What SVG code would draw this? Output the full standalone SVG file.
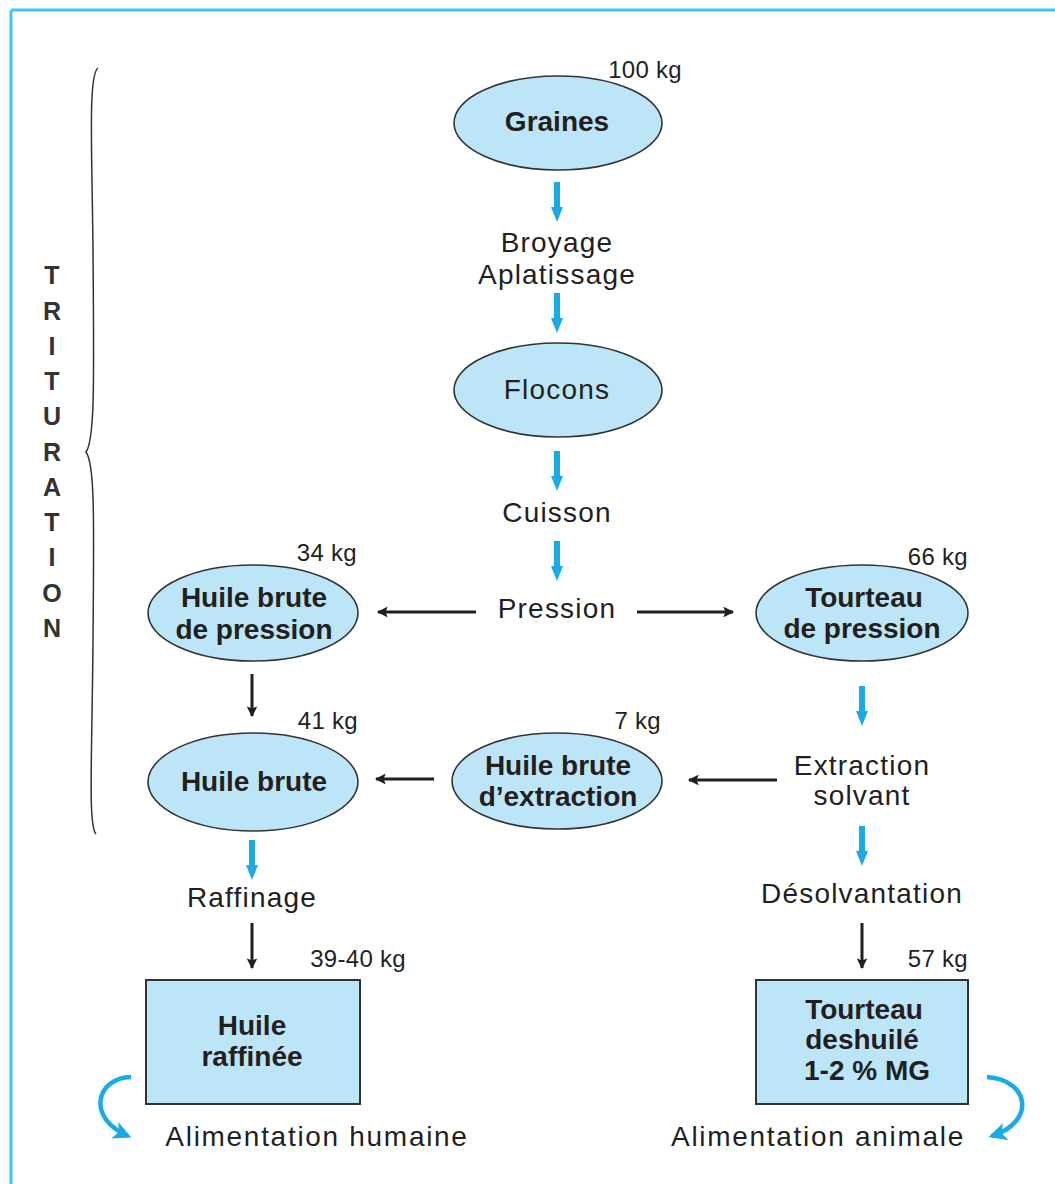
<svg xmlns="http://www.w3.org/2000/svg" width="1055" height="1184" viewBox="0 0 1055 1184">
<defs>
<style>
text{font-family:"Liberation Sans",Arial,sans-serif;fill:#231f20}
.n{font-size:28px;letter-spacing:1.2px;text-anchor:middle}
.al{letter-spacing:1.7px}
.b{font-size:28px;font-weight:bold;text-anchor:middle}
.kg{font-size:24px;text-anchor:end;letter-spacing:0.3px}
.tri{font-size:25px;font-weight:bold;text-anchor:middle;fill:#333}
.ell{fill:#bde5f8;stroke:#333;stroke-width:1.6}
.box{fill:#bde5f8;stroke:#333;stroke-width:2}
.blk{stroke:#231f20;stroke-width:3;fill:none;marker-end:url(#ah)}
.blu{fill:#1aabe6}
.cur{stroke:#1aabe6;stroke-width:4.5;fill:none;marker-end:url(#bh)}
</style>
<marker id="ah" viewBox="0 0 10 10" refX="9" refY="5" markerWidth="4" markerHeight="3.6" orient="auto" markerUnits="strokeWidth">
<path d="M0,0 L10,5 L0,10 L2,5 Z" fill="#231f20"/>
</marker>
<marker id="bh" viewBox="0 0 10 10" refX="8" refY="5" markerWidth="4.5" markerHeight="4" orient="auto" markerUnits="strokeWidth">
<path d="M0,0 L10,5 L0,10 L2.5,5 Z" fill="#1aabe6"/>
</marker>
<path id="barr" d="M-3,0 L3,0 L3,25 L6,25 L0,40 L-6,25 L-3,25 Z"/>
</defs>
<g id="frame">
<line x1="11" y1="10" x2="1055" y2="10" stroke="#40c4f4" stroke-width="3"/>
<line x1="11" y1="10" x2="11" y2="1184" stroke="#40c4f4" stroke-width="3"/>
</g>
<g id="trituration">
<path d="M98,68 C88,75 92,150 93,250 C94,380 95,440 86,452 C95,464 94,520 93,640 C92,760 88,825 96,834" fill="none" stroke="#333" stroke-width="1.5"/>
<text class="tri" x="52" y="284">T</text>
<text class="tri" x="52" y="320">R</text>
<text class="tri" x="52" y="355">I</text>
<text class="tri" x="52" y="390">T</text>
<text class="tri" x="52" y="425">U</text>
<text class="tri" x="52" y="461">R</text>
<text class="tri" x="52" y="496">A</text>
<text class="tri" x="52" y="531">T</text>
<text class="tri" x="52" y="566">I</text>
<text class="tri" x="52" y="602">O</text>
<text class="tri" x="52" y="637">N</text>
</g>
<g id="connectors">
<use href="#barr" class="blu" x="557" y="182"/>
<use href="#barr" class="blu" x="557" y="293"/>
<use href="#barr" class="blu" x="557" y="451"/>
<use href="#barr" class="blu" x="557" y="541"/>
<use href="#barr" class="blu" x="862" y="686"/>
<use href="#barr" class="blu" x="862" y="826"/>
<use href="#barr" class="blu" x="252" y="840"/>
<line class="blk" x1="476" y1="612" x2="378" y2="612"/>
<line class="blk" x1="637" y1="612" x2="733" y2="612"/>
<line class="blk" x1="252" y1="674" x2="252" y2="716"/>
<line class="blk" x1="434" y1="779" x2="376" y2="779"/>
<line class="blk" x1="777" y1="780" x2="689" y2="780"/>
<line class="blk" x1="252" y1="923" x2="252" y2="968"/>
<line class="blk" x1="862" y1="923" x2="862" y2="968"/>
<path class="cur" d="M131,1077 C96,1078 86,1118 128,1136"/>
<path class="cur" d="M987,1077 C1030,1080 1036,1122 992,1136"/>
</g>
<g id="graines">
<ellipse class="ell" cx="558" cy="123" rx="104" ry="47"/>
<text class="b" x="557" y="131">Graines</text>
<text class="kg" x="682" y="78">100 kg</text>
</g>
<g id="broyage">
<text class="n" x="557" y="252">Broyage</text>
<text class="n" x="557" y="284">Aplatissage</text>
</g>
<g id="flocons">
<ellipse class="ell" cx="558" cy="390" rx="104" ry="47"/>
<text class="n" x="557" y="399">Flocons</text>
</g>
<g id="cuisson">
<text class="n" x="557" y="522">Cuisson</text>
</g>
<g id="pression">
<text class="n" x="557" y="618">Pression</text>
</g>
<g id="huile-brute-pression">
<ellipse class="ell" cx="253" cy="613" rx="105" ry="48"/>
<text class="b" x="254" y="607">Huile brute</text>
<text class="b" x="254" y="639">de pression</text>
<text class="kg" x="357" y="561">34 kg</text>
</g>
<g id="tourteau-pression">
<ellipse class="ell" cx="862" cy="613" rx="106" ry="48"/>
<text class="b" x="864" y="607">Tourteau</text>
<text class="b" x="862" y="638">de pression</text>
<text class="kg" x="968" y="565">66 kg</text>
</g>
<g id="huile-brute">
<ellipse class="ell" cx="253" cy="782" rx="105" ry="49"/>
<text class="b" x="254" y="791">Huile brute</text>
<text class="kg" x="358" y="729">41 kg</text>
</g>
<g id="huile-brute-extraction">
<ellipse class="ell" cx="557" cy="781" rx="105" ry="48"/>
<text class="b" x="558" y="775">Huile brute</text>
<text class="b" x="558" y="806">d’extraction</text>
<text class="kg" x="661" y="729">7 kg</text>
</g>
<g id="extraction">
<text class="n" x="862" y="775">Extraction</text>
<text class="n" x="862" y="805">solvant</text>
</g>
<g id="desolvantation">
<text class="n" x="862" y="903">Désolvantation</text>
</g>
<g id="raffinage">
<text class="n" x="252" y="907">Raffinage</text>
</g>
<g id="huile-raffinee">
<rect class="box" x="146" y="980" width="214" height="124"/>
<text class="b" x="252" y="1035">Huile</text>
<text class="b" x="252" y="1066">raffinée</text>
<text class="kg" x="406" y="967">39-40 kg</text>
</g>
<g id="tourteau-deshuile">
<rect class="box" x="756" y="980" width="212" height="124"/>
<text class="b" x="864" y="1019">Tourteau</text>
<text class="b" x="862" y="1049">deshuilé</text>
<text class="b" x="867" y="1080">1-2 % MG</text>
<text class="kg" x="968" y="967">57 kg</text>
</g>
<g id="alimentation">
<text class="n al" x="317" y="1146">Alimentation humaine</text>
<text class="n al" x="818" y="1146">Alimentation animale</text>
</g>
</svg>
